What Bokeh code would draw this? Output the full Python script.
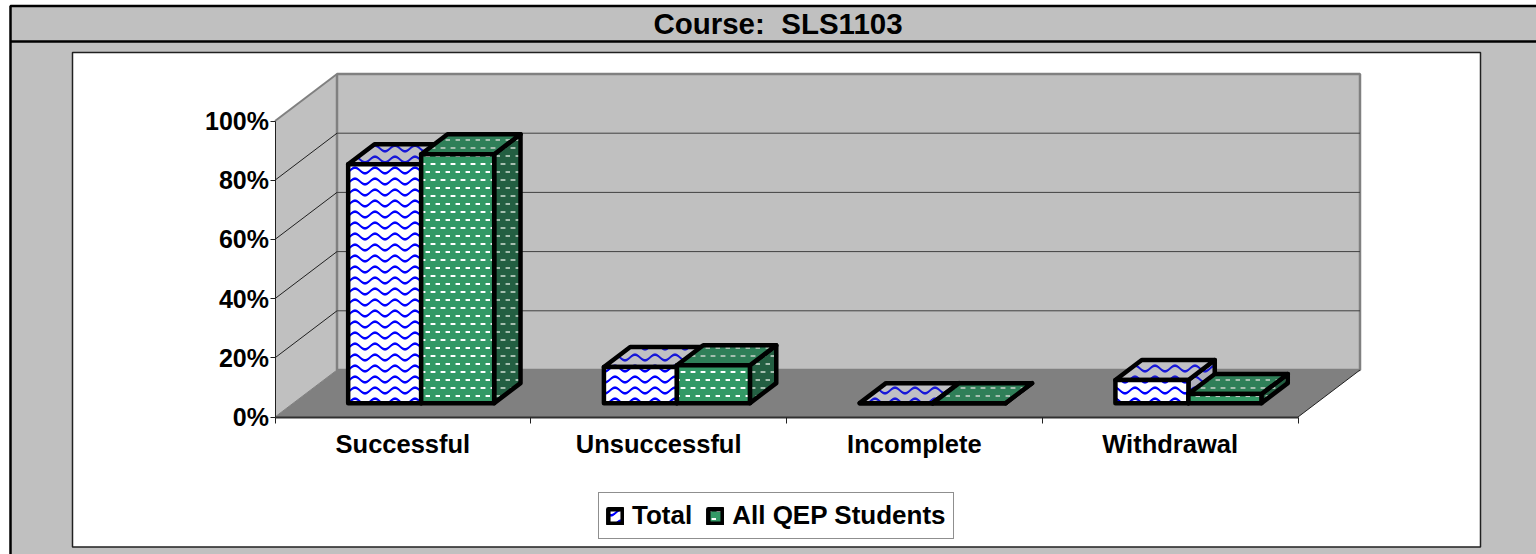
import base64, struct, zlib
import numpy as np
from bokeh.plotting import figure
from bokeh.embed import file_html
from bokeh.resources import INLINE
from bokeh.core.properties import value
from bokeh.models import (Legend, LegendItem, FixedTicker, LinearAxis, Range1d, ImageURLTexture)

categories = ["Successful", "Unsuccessful", "Incomplete", "Withdrawal"]
total = [80.7, 12.2, 0, 7.8]
qep = [84.1, 12.8, 0, 3.1]
y_ticks = [0, 20, 40, 60, 80, 100]
title_text = "Course:\u00a0\u00a0SLS1103"

FONT = "Liberation Sans"
W, H = 1536, 554
PX_CAT = 255.75      # px per category
PX_PCT = 2.96        # px per percent
X0, Y0 = 274.5, 416.5  # canvas position of the chart origin
DX = 62 / PX_CAT     # full depth in category units
DY = 47 / PX_PCT     # full depth in percent units
BAR_W = 73 / PX_CAT
D1, D2 = 0.295, 0.72  # bar front / back depth fraction


def xd(px):
    return (px - X0) / PX_CAT


def yd(py):
    return (Y0 - py) / PX_PCT


def dp(x, y, d):
    return x + DX * d, y + DY * d


def poly(*pts):
    return [q[0] for q in pts], [q[1] for q in pts]


def png_url(rgba):
    h, w = rgba.shape[:2]
    raw = b"".join(b"\x00" + rgba[r].tobytes() for r in range(h))

    def chunk(tag, data):
        c = struct.pack(">I", len(data)) + tag + data
        return c + struct.pack(">I", zlib.crc32(tag + data) & 0xffffffff)
    png = b"\x89PNG\r\n\x1a\n" + chunk(b"IHDR", struct.pack(">IIBBBBB", w, h, 8, 6, 0, 0, 0)) + \
        chunk(b"IDAT", zlib.compress(raw)) + chunk(b"IEND", b"")
    return "data:image/png;base64," + base64.b64encode(png).decode()


def wave_tex(rgb, period=20, rows=(5.5, 16.5), amp=2.8, half=1.3):
    hgt = 22
    yy, xx = np.mgrid[0:hgt, 0:period]
    a = np.zeros((hgt, period))
    for y0 in rows:
        d = np.abs(yy + 0.5 - (y0 + amp * np.sin(2 * np.pi * (xx + 0.5) / period)))
        a = np.maximum(a, np.clip(half + 0.5 - d, 0, 1))
    img = np.zeros((hgt, period, 4), dtype=np.uint8)
    img[..., :3] = rgb
    img[..., 3] = (a * 255).astype(np.uint8)
    return ImageURLTexture(url=png_url(img))


def dot_tex(rgb, w=10, h=16):
    img = np.zeros((h, w, 4), dtype=np.uint8)
    img[..., :3] = rgb
    img[3:5, 1:5, 3] = 255
    img[3:5, [0, 5], 3] = 110
    img[11:13, 6:10, 3] = 255
    img[11:13, [5], 3] = 110
    return ImageURLTexture(url=png_url(img))


p = figure(width=W, height=H, output_backend="svg", toolbar_location=None,
           x_range=Range1d(xd(0), xd(W)), y_range=Range1d(yd(H), yd(0)),
           x_axis_type=None, y_axis_type=None,
           min_border=0, background_fill_color="white", border_fill_color="white",
           outline_line_color=None)
p.grid.visible = False

# sheet, title strip, white chart area (chrome)
p.quad(left=xd(10), right=xd(W + 20), top=yd(5.5), bottom=yd(H + 20), fill_color="#c0c0c0", line_color="black", line_width=2.5)
p.line([xd(10), xd(W + 20)], [yd(41), yd(41)], line_color="black", line_width=2.5)
p.quad(left=xd(72), right=xd(1480), top=yd(52), bottom=yd(546.5), fill_color="white", line_color="#202020", line_width=1.5)
p.text(x=[xd(777.5)], y=[yd(23)], text=[title_text], text_font=value(FONT), text_font_style="bold",
       text_font_size="29.5px", text_align="center", text_baseline="alphabetic", text_color="black")

# walls and floor
xm, ym = 4, 100
wx, wy = poly((0, 0), dp(0, 0, 1), dp(0, ym, 1), (0, ym))
p.patch(wx, wy, fill_color="#c0c0c0", line_color=None)
wx, wy = poly(dp(0, 0, 1), dp(xm, 0, 1), dp(xm, ym, 1), dp(0, ym, 1))
p.patch(wx, wy, fill_color="#c0c0c0", line_color="#808080", line_width=2.5)
wx, wy = poly((0, 0), dp(0, 0, 1), dp(xm, 0, 1), (xm, 0))
p.patch(wx, wy, fill_color="#808080", line_color=None)
for t in y_ticks:
    a, b = dp(0, t, 1), dp(xm, t, 1)
    if 0 < t < 100:
        p.line([a[0], b[0]], [a[1], b[1]], line_color="#404040", line_width=1)
        p.line([0, a[0]], [t, a[1]], line_color="#202020", line_width=1)
    if t == 0:
        p.line([0, a[0]], [t, a[1]], line_color="#808080", line_width=1)
p.line([0, DX], [100, 100 + DY], line_color="#808080", line_width=2)
p.line([xm, xm + DX], [0, DY], line_color="#202020", line_width=1)


def bars(values, offset, front_fill, top_fill, side_fill, front_tex, back_tex):
    fx, fy, tx, ty, sx, sy = [], [], [], [], [], []
    for i, v in enumerate(values):
        a = i + 0.5 + offset
        b = a + BAR_W
        f = poly(dp(a, 0, D1), dp(b, 0, D1), dp(b, v, D1), dp(a, v, D1))
        t = poly(dp(a, v, D1), dp(b, v, D1), dp(b, v, D2), dp(a, v, D2))
        s = poly(dp(b, 0, D1), dp(b, 0, D2), dp(b, v, D2), dp(b, v, D1))
        fx.append(f[0]); fy.append(f[1])
        tx.append(t[0]); ty.append(t[1])
        sx.append(s[0]); sy.append(s[1])
    common = dict(line_color="black", line_join="round", line_width=4.5, hatch_pattern=value("tx"))
    p.patches(sx, sy, fill_color=side_fill, hatch_extra={"tx": back_tex}, **common)
    p.patches(tx, ty, fill_color=top_fill, hatch_extra={"tx": back_tex}, **common)
    return p.patches(fx, fy, fill_color=front_fill, hatch_extra={"tx": front_tex}, **common)


r1 = bars(total, -BAR_W, "white", "#c0c0c4", "#b0b0bc", wave_tex((0, 0, 255)), wave_tex((24, 24, 216)))
r2 = bars(qep, 0, "#339966", "#2f7f58", "#235f42", dot_tex((255, 255, 255)), dot_tex((165, 190, 175)))

# axes
ya = LinearAxis(fixed_location=0, bounds=(0, 100), ticker=FixedTicker(ticks=y_ticks),
                major_label_overrides={t: f"{t}%" for t in y_ticks})
ya.major_label_text_font = FONT
ya.major_label_text_font_style = "bold"
ya.major_label_text_font_size = "25px"
ya.major_label_text_color = "black"
ya.major_tick_in = 0
ya.major_tick_out = 5
ya.minor_tick_line_color = None
ya.axis_line_color = "#202020"
ya.major_tick_line_color = "#202020"
ya.major_label_standoff = 1
p.add_layout(ya, "left")

xa = LinearAxis(fixed_location=0, bounds=(0, 4),
                ticker=FixedTicker(ticks=[0.5, 1.5, 2.5, 3.5], minor_ticks=[0, 1, 2, 3, 4]),
                major_label_overrides={i + 0.5: c for i, c in enumerate(categories)})
xa.major_label_text_font = FONT
xa.major_label_text_font_style = "bold"
xa.major_label_text_font_size = "25.5px"
xa.major_label_text_color = "black"
xa.major_tick_line_color = None
xa.major_tick_in = 0
xa.major_tick_out = 0
xa.major_label_standoff = 7
xa.minor_tick_in = 0
xa.minor_tick_out = 6
xa.minor_tick_line_color = "#202020"
xa.axis_line_color = "#303030"
xa.axis_line_width = 2
p.add_layout(xa, "below")

leg = Legend(items=[LegendItem(label="Total", renderers=[r1]), LegendItem(label="All QEP Students", renderers=[r2])],
             orientation="horizontal", location=(598, H - 539), label_text_font=FONT,
             label_text_font_style="bold", label_text_font_size="26px", label_text_color="black",
             border_line_color="#202020", border_line_width=1.5, background_fill_color="white",
             glyph_width=18, glyph_height=18, spacing=14, padding=7, margin=0, label_standoff=8)
p.add_layout(leg)

open("out.html", "w").write(file_html(p, INLINE))
